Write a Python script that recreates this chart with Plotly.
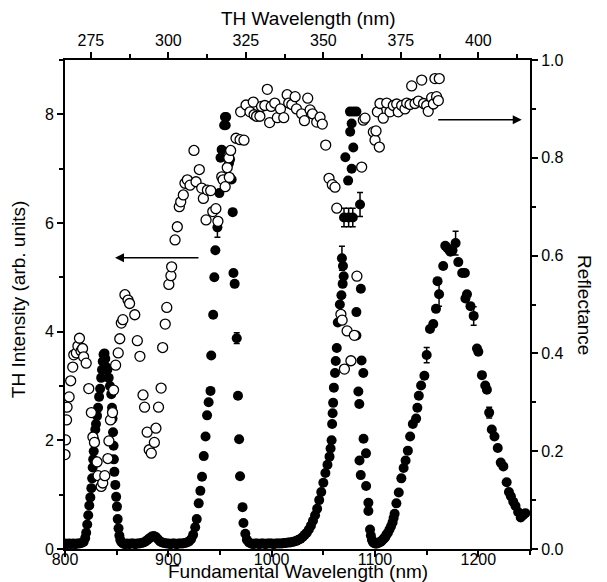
import plotly.graph_objects as go

# ---------------- data ----------------
# TH intensity (filled circles, left axis) vs fundamental wavelength
th_wl = [800, 802, 804, 806, 808, 810, 812, 814, 816, 818,
         819.5, 820.5, 821.5, 822.5, 823.5, 824.5, 825.5, 826.3, 826.8, 827.3, 827.8, 828.5, 829.3, 830, 831, 832, 833, 834,
         835, 835.8, 836.5, 837.3, 838.2, 839, 839.8, 841, 842.3, 843.5, 844.8, 845.5, 846, 846.5, 847, 847.3, 847.8,
         848.7, 849.5, 850.3, 851, 851.8, 852.6, 853.5, 854.5,
         856, 858, 860, 862, 864, 866, 868, 870, 872, 874, 876, 878, 880, 882, 884, 886, 888, 890, 892, 894, 896, 898,
         900, 902, 904, 906, 908, 910, 912, 914, 916, 918, 920, 922, 924, 926,
         927.5, 929.4, 931, 932.6, 934.3, 936, 937.5, 939, 940.8, 941.5, 943.4, 944.5, 945.5, 949.4, 950.5, 951.6,
         954, 954.8, 955.5, 956, 958.7, 959.7, 961.3, 962.3, 963, 964.2, 967.4, 968.5, 969.4, 971.8, 972.7, 974.5, 976,
         978, 980, 982, 984, 986, 988, 990, 992, 994, 996, 998, 1000, 1002, 1004, 1006, 1008, 1010, 1012, 1014, 1016,
         1018, 1020, 1022, 1024, 1026, 1028, 1030, 1032, 1034, 1036, 1038, 1040, 1042, 1044, 1046, 1048, 1050, 1052,
         1054, 1056, 1057, 1058, 1058.5, 1059, 1059.5, 1060.2, 1061.3, 1062, 1063, 1064, 1066, 1067.5, 1068.7, 1069,
         1069.7, 1071.3, 1074, 1075.8, 1076, 1077.4, 1077.4, 1079, 1079, 1082, 1082, 1082, 1083.9, 1084.8, 1085, 1086.2,
         1086.3, 1087, 1088.7, 1088.9, 1091.3, 1091.4, 1093.6, 1093.6, 1095.2, 1096, 1097, 1098, 1099, 1100, 1101, 1102,
         1103, 1104, 1105, 1106, 1107, 1108, 1109, 1110, 1111, 1112.5, 1114, 1115.5, 1117, 1118, 1119, 1120.7, 1123,
         1125.5, 1127.7, 1129.6, 1131.8, 1134, 1136.6, 1139.8, 1141, 1142.4, 1144.6, 1147.8, 1153.2, 1156.4, 1159,
         1160.5, 1166, 1168, 1170, 1172, 1173, 1175, 1180.6, 1184.4, 1187, 1187.5, 1189, 1192.4, 1198.7, 1200, 1203.5,
         1206.7, 1208.3, 1213, 1215.6, 1218.8, 1221.7, 1224.2, 1227.4, 1229.6, 1231.5, 1233.8, 1236, 1238.5, 1241,
         1243.3, 1245.5]
th_int = [0.10, 0.09, 0.10, 0.09, 0.10, 0.09, 0.10, 0.10, 0.11, 0.13,
          0.20, 0.30, 0.45, 0.62, 0.80, 0.95, 1.12, 1.30, 1.50, 1.65, 1.80, 2.00, 2.20, 2.30, 2.45, 2.60, 2.80, 2.95,
          3.15, 3.30, 3.45, 3.58, 3.60, 3.50, 3.35, 3.30, 3.15, 3.00, 2.85, 2.60, 2.40, 2.15, 1.90, 1.65, 1.42,
          1.18, 0.96, 0.78, 0.55, 0.38, 0.25, 0.17, 0.13,
          0.10, 0.09, 0.10, 0.09, 0.10, 0.10, 0.09, 0.10, 0.10, 0.11, 0.12, 0.14, 0.17, 0.20, 0.23, 0.24, 0.22, 0.18,
          0.14, 0.12, 0.11, 0.10,
          0.10, 0.09, 0.10, 0.10, 0.09, 0.10, 0.10, 0.10, 0.11, 0.12, 0.14, 0.18, 0.26, 0.40,
          0.55, 0.84, 1.07, 1.33, 1.71, 2.07, 2.46, 2.70, 2.91, 3.56, 4.31, 5.00, 5.50, 6.55, 7.20, 7.35,
          7.80, 7.95, 7.80, 7.95, 7.10, 7.17, 6.80, 6.20, 5.08, 4.88, 2.82, 2.02, 1.34, 0.77, 0.48, 0.28, 0.17,
          0.12, 0.10, 0.09, 0.10, 0.10, 0.09, 0.10, 0.10, 0.09, 0.10, 0.10, 0.10, 0.09, 0.10, 0.10, 0.10, 0.10, 0.11,
          0.11, 0.12, 0.12, 0.13, 0.14, 0.15, 0.17, 0.19, 0.22, 0.26, 0.30, 0.36, 0.43, 0.52, 0.62, 0.74, 0.90, 1.05,
          1.22, 1.40, 1.55, 1.70, 1.85, 2.00, 2.30, 2.50, 2.69, 2.97, 3.24, 3.46, 3.70, 4.17, 4.50, 4.67, 4.88,
          5.21, 5.02, 7.21, 6.78, 8.05, 7.68, 7.83, 7.00, 8.05, 7.39, 8.05, 3.93, 4.36, 2.90, 2.67, 1.63,
          1.36, 4.79, 3.47, 3.24, 2.03, 1.76, 1.16, 0.85, 0.70, 0.36, 0.25, 0.17, 0.13, 0.11, 0.10, 0.10,
          0.10, 0.11, 0.12, 0.13, 0.14, 0.16, 0.18, 0.20, 0.22, 0.26, 0.30, 0.36, 0.42, 0.49, 0.57, 0.65, 0.84, 1.04,
          1.30, 1.49, 1.63, 1.81, 2.07, 2.30, 2.40, 2.60, 2.82, 3.01, 3.19, 4.05, 4.14, 4.42,
          4.93, 5.21, 5.58, 5.54, 5.50, 5.47, 5.50, 5.28, 5.08, 5.08, 4.61, 4.69, 4.47, 3.69, 3.63, 3.20,
          3.01, 2.93, 2.20, 2.07, 1.86, 1.59, 1.52, 1.23, 1.05, 0.97, 0.87, 0.79, 0.68, 0.58,
          0.62, 0.66]

# TH intensity points that carry error bars
err_wl = [947.5, 966.2, 1068.0, 1070.0, 1074.5, 1078.5, 1085.5, 1150.0, 1162.0, 1178.0, 1195.5, 1210.5]
err_int = [5.92, 3.88, 5.35, 6.10, 6.10, 6.10, 6.34, 3.57, 4.69, 5.63, 4.29, 2.51]
err_val = [0.18, 0.10, 0.22, 0.17, 0.17, 0.17, 0.22, 0.14, 0.22, 0.22, 0.17, 0.10]

# Reflectance (open circles, right axis) vs fundamental wavelength
refl_wl = [800, 800.5, 801.5, 802, 804, 805.5, 807.5, 808.5, 811, 812.5, 814, 815.5, 817, 818, 820.5, 823, 825.5,
           827, 828.5, 831, 832, 835, 836.5, 838.5, 841.5, 842.5, 844, 846, 847, 849, 851.5, 853, 854.5, 856, 858,
           861, 862.5, 867.5, 870, 872.5, 875.5, 877, 879.5, 881.5, 883.5, 886.5, 888, 890.5, 893, 894.5, 897,
           898.5, 900.5, 902.5, 903.2, 906.5, 908.7, 910.6, 912, 914.5, 916.1, 918.4, 921, 924.8, 926.8, 930,
           932.3, 933.9, 936.5, 937.8, 941, 943, 946, 948, 951.7, 953, 955, 957, 958.5, 959, 960.3, 965.5, 969.4,
           970, 973.2, 975.2, 979, 982.2, 983, 985.4, 988.6, 990.2, 993.4, 995.8, 998, 999.5, 1003, 1005.5,
           1008.5, 1011.7, 1015, 1016.5, 1019.5, 1022.7, 1024, 1029, 1031.7, 1034.9, 1037.2, 1039.5, 1043.6,
           1046.8, 1049, 1052.3, 1055.5, 1058.7, 1061.3, 1063, 1067, 1068.2, 1070.4, 1073, 1076.7, 1080, 1082.5,
           1087.1, 1088.7, 1090.3, 1098.4, 1100, 1101, 1102.3, 1104.2, 1104.8, 1108, 1111.3, 1114.5, 1117.7,
           1121, 1122.5, 1125.8, 1129, 1130.7, 1133.9, 1135.5, 1138.7, 1142, 1145.2, 1147, 1150, 1151.5, 1154.8,
           1156.5, 1158, 1159.6, 1161.3, 1162.2]
refl = [0.193, 0.223, 0.264, 0.290, 0.311, 0.344, 0.372, 0.397, 0.401, 0.415, 0.431, 0.405, 0.410, 0.393, 0.380,
        0.328, 0.279, 0.229, 0.218, 0.178, 0.150, 0.128, 0.135, 0.150, 0.185, 0.221, 0.264, 0.279, 0.325, 0.376,
        0.401, 0.430, 0.462, 0.469, 0.520, 0.509, 0.502, 0.479, 0.426, 0.394, 0.315, 0.290, 0.239, 0.203, 0.196,
        0.218, 0.247, 0.290, 0.329, 0.412, 0.460, 0.494, 0.541, 0.559, 0.577, 0.632, 0.659, 0.700, 0.710, 0.724,
        0.748, 0.755, 0.744, 0.815, 0.751, 0.776, 0.738, 0.717, 0.673, 0.734, 0.733, 0.690, 0.696, 0.670, 0.761,
        0.755, 0.741, 0.780, 0.800, 0.760, 0.815, 0.840, 0.837, 0.894, 0.836, 0.908, 0.894, 0.914, 0.888, 0.885,
        0.885, 0.905, 0.907, 0.940, 0.872, 0.905, 0.912, 0.882, 0.900, 0.882, 0.929, 0.912, 0.909, 0.925, 0.900,
        0.890, 0.876, 0.922, 0.898, 0.890, 0.873, 0.883, 0.869, 0.826, 0.758, 0.745, 0.740, 0.697, 0.480, 0.468,
        0.368, 0.446, 0.385, 0.437, 0.558, 0.781, 0.877, 0.881, 0.853, 0.836, 0.855, 0.894, 0.822, 0.911, 0.881,
        0.912, 0.894, 0.907, 0.910, 0.894, 0.907, 0.900, 0.912, 0.909, 0.947, 0.911, 0.916, 0.959, 0.911, 0.907,
        0.895, 0.923, 0.910, 0.962, 0.925, 0.917, 0.962]

bottom_ticks = [800, 900, 1000, 1100, 1200]
top_ticks = [275, 300, 325, 350, 375, 400]
left_ticks = [0, 2, 4, 6, 8]
right_ticks = [0.0, 0.2, 0.4, 0.6, 0.8, 1.0]

# ---------------- figure ----------------
FONT = "Liberation Sans, Arial, sans-serif"
fig = go.Figure()

fig.add_trace(go.Scatter(
    x=th_wl, y=th_int, mode="markers", xaxis="x", yaxis="y",
    marker=dict(size=10, color="black", line=dict(width=0)),
    showlegend=False, hoverinfo="skip"))

fig.add_trace(go.Scatter(
    x=err_wl, y=err_int, mode="markers", xaxis="x", yaxis="y",
    marker=dict(size=10, color="black", line=dict(width=0)),
    error_y=dict(type="data", array=err_val, visible=True, color="black", thickness=1.5, width=3),
    showlegend=False, hoverinfo="skip"))

fig.add_trace(go.Scatter(
    x=refl_wl, y=refl, mode="markers", xaxis="x", yaxis="y2",
    marker=dict(size=10, color="white", line=dict(width=1.3, color="black")),
    showlegend=False, hoverinfo="skip"))

# helper trace so the top (TH wavelength) axis is rendered
fig.add_trace(go.Scatter(
    x=top_ticks, y=[None] * len(top_ticks), mode="markers", xaxis="x2", yaxis="y",
    marker=dict(opacity=0), showlegend=False, hoverinfo="skip"))

axis_common = dict(showgrid=False, zeroline=False, showline=True, linecolor="black", linewidth=2,
                   ticks="outside", ticklen=6, tickwidth=1.5, tickcolor="black", automargin=False,
                   tickfont=dict(family=FONT, size=16, color="black"))

# the page body has an 8px margin, so the figure is sized to fit the 607x582 window
fig.update_layout(
    template="none",
    width=599, height=574,
    margin=dict(l=57, r=77, t=52, b=33, autoexpand=False),
    paper_bgcolor="white", plot_bgcolor="white",
    showlegend=False,
    xaxis=dict(range=[800, 1250], tickvals=bottom_ticks, ticklabelstandoff=-11,
               minor=dict(dtick=50, tick0=800, ticks="outside", ticklen=4, tickwidth=1.5, tickcolor="black"),
               **axis_common),
    xaxis2=dict(range=[800 / 3, 1250 / 3], overlaying="x", side="top", anchor="y", tickvals=top_ticks,
                minor=dict(dtick=12.5, tick0=275, ticks="outside", ticklen=4, tickwidth=1.5, tickcolor="black"),
                **axis_common),
    yaxis=dict(range=[0, 9.0], tickvals=left_ticks,
               minor=dict(dtick=1, tick0=0, ticks="outside", ticklen=4, tickwidth=1.5, tickcolor="black"),
               **axis_common),
    yaxis2=dict(range=[0, 1.0], overlaying="y", side="right", anchor="x", tickvals=right_ticks,
                tickformat=".1f",
                minor=dict(dtick=0.1, tick0=0, ticks="outside", ticklen=4, tickwidth=1.5, tickcolor="black"),
                **axis_common),
)

title_font = dict(family=FONT, size=19, color="black")
fig.add_annotation(text="TH Wavelength (nm)", xref="paper", yref="paper", x=0.523, y=1.085,
                   showarrow=False, font=title_font, xanchor="center", yanchor="middle", borderpad=0)
fig.add_annotation(text="Fundamental Wavelength (nm)", xref="paper", yref="paper", x=0.501, y=-0.047,
                   showarrow=False, font=title_font, xanchor="center", yanchor="middle", borderpad=0)
fig.add_annotation(text="TH Intensity (arb. units)", xref="paper", yref="paper", x=-0.101, y=0.509,
                   showarrow=False, font=title_font, textangle=-90, xanchor="center", yanchor="middle")
fig.add_annotation(text="Reflectance", xref="paper", yref="paper", x=1.116, y=0.499,
                   showarrow=False, font=title_font, textangle=90, xanchor="center", yanchor="middle")

# arrows indicating which axis each data set belongs to
fig.add_annotation(x=848.4, y=5.36, ax=930.6, ay=5.36, xref="x", yref="y", axref="x", ayref="y",
                   text="", showarrow=True, arrowhead=2, arrowsize=1.2, arrowwidth=1.5, arrowcolor="black")
fig.add_annotation(x=1242, y=7.9, ax=1159.7, ay=7.9, xref="x", yref="y", axref="x", ayref="y",
                   text="", showarrow=True, arrowhead=2, arrowsize=1.2, arrowwidth=1.5, arrowcolor="black")

fig.write_html("out.html")
